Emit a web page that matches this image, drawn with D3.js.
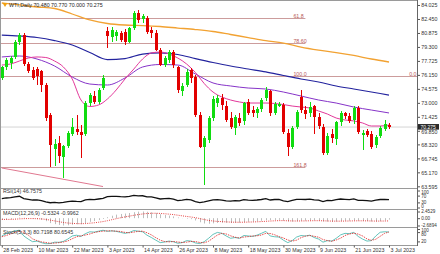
<!DOCTYPE html>
<html>
<head>
<meta charset="utf-8">
<script src="https://d3js.org/d3.v7.min.js"></script>
<style>
  body { margin: 0; background: #fff; }
  svg text { font-family: "Liberation Sans", Arial, sans-serif; font-size: 5.3px; }
</style>
</head>
<body>
<div id="chart"></div>
<script>
// date ticks (bar index of each label)
const tickIdx = [0, 8, 16, 24, 32, 40, 48, 56, 64, 72, 80, 88];
const tickLabels = ["28 Feb 2023", "10 Mar 2023", "22 Mar 2023", "3 Apr 2023", "14 Apr 2023", "26 Apr 2023",
  "8 May 2023", "18 May 2023", "30 May 2023", "9 Jun 2023", "21 Jun 2023", "3 Jul 2023"];

const priceTicks = [84.025, 82.450, 80.875, 79.300, 77.725, 76.150, 74.575, 73.000, 71.425, 69.850, 68.320, 66.745, 65.170, 63.595];

// daily OHLC, 28 Feb .. 3 Jul
const opens = [75.8, 77.0, 77.5, 78.2, 79.8, 80.6, 77.4, 76.7, 76.8, 76.6,
  75.0, 71.6, 67.8, 68.5, 66.9, 68.1, 69.5, 70.1, 69.7, 69.5,
  73.0, 73.8, 73.1, 74.7, 81.1, 80.4, 80.5, 80.9, 81.0, 79.9,
  81.4, 83.1, 82.4, 82.6, 81.2, 80.9, 79.0, 77.3, 77.8, 78.7,
  77.0, 74.3, 75.0, 76.7, 75.9, 71.6, 68.0, 68.8, 71.3, 73.0,
  73.6, 72.6, 71.3, 70.2, 71.3, 70.9, 73.1, 72.2, 71.9, 72.3,
  73.5, 74.3, 71.9, 72.7, 72.8, 69.6, 68.0, 70.3, 73.7, 72.2,
  71.8, 72.7, 71.4, 70.3, 67.4, 69.5, 68.9, 70.8, 71.9, 71.5,
  71.1, 72.4, 69.4, 69.8, 69.5, 68.2, 69.3, 70.0, 70.48];
const highs = [77.2, 78.0, 78.3, 80.1, 80.9, 80.9, 77.6, 77.0, 77.0, 76.7,
  75.2, 71.9, 68.9, 69.3, 68.3, 69.8, 71.3, 71.6, 70.5, 73.2,
  74.1, 74.3, 74.7, 76.1, 81.5, 81.5, 81.2, 81.1, 81.3, 81.6,
  83.3, 83.5, 83.0, 82.8, 81.5, 81.2, 79.2, 78.3, 78.9, 79.0,
  77.2, 75.2, 76.8, 76.9, 76.1, 72.0, 69.3, 71.5, 73.8, 73.9,
  74.0, 73.2, 72.0, 71.6, 71.8, 73.1, 73.4, 72.6, 72.5, 73.6,
  74.8, 74.5, 73.1, 73.1, 73.0, 70.0, 70.4, 72.2, 74.5, 72.7,
  73.1, 72.8, 71.8, 70.6, 69.6, 70.0, 71.0, 72.1, 72.0, 71.8,
  72.7, 72.6, 69.9, 70.1, 69.8, 69.4, 70.4, 71.1, 70.77];
const lows = [75.6, 76.7, 76.8, 77.9, 79.5, 77.1, 76.4, 75.6, 75.0, 74.2,
  71.0, 65.8, 65.9, 66.2, 64.5, 67.9, 69.3, 69.4, 66.8, 69.3,
  72.6, 72.9, 72.9, 74.5, 79.2, 79.8, 80.0, 79.9, 79.5, 79.7,
  81.2, 82.0, 82.0, 80.8, 80.3, 78.8, 77.1, 77.0, 77.5, 76.9,
  74.1, 73.8, 74.8, 75.2, 71.4, 67.9, 63.8, 68.5, 71.0, 72.5,
  72.2, 70.8, 70.0, 69.4, 70.4, 70.5, 71.6, 71.4, 71.3, 72.0,
  73.2, 71.5, 71.6, 72.5, 69.5, 67.0, 67.8, 70.1, 71.9, 71.2,
  71.4, 69.5, 70.0, 67.1, 67.1, 68.5, 68.2, 70.4, 71.2, 70.7,
  70.6, 69.5, 67.7, 69.1, 67.8, 67.9, 69.0, 69.8, 70.00];
const closes = [77.0, 77.8, 78.1, 79.9, 80.6, 77.4, 76.6, 75.8, 76.0, 75.0,
  71.3, 68.2, 68.4, 67.0, 68.1, 69.6, 70.3, 69.7, 69.4, 73.0,
  73.9, 73.1, 74.5, 75.8, 80.5, 81.2, 81.0, 80.1, 79.9, 81.4,
  83.1, 82.3, 82.8, 81.0, 80.9, 79.0, 77.3, 78.1, 78.7, 77.3,
  74.4, 74.9, 76.5, 75.8, 71.6, 68.0, 69.0, 71.3, 73.4, 73.6,
  72.8, 71.1, 70.3, 71.4, 70.7, 73.0, 71.9, 71.8, 72.3, 73.3,
  74.4, 71.9, 72.9, 72.9, 69.7, 68.0, 70.2, 72.0, 72.2, 71.7,
  72.5, 71.4, 70.4, 67.4, 69.3, 69.0, 70.8, 71.9, 71.5, 71.0,
  72.4, 69.7, 69.6, 69.4, 68.0, 69.2, 70.2, 70.6, 70.275];

// moving averages (bar index -> price)
const maIdx = [0, 4, 8, 12, 16, 20, 24, 28, 32, 36, 40, 44, 48, 52, 56, 60, 64, 68, 72, 76, 80, 84, 88];
const maOrange = [84.25, 84.03, 83.80, 83.63, 83.01, 82.34, 81.94, 81.77, 81.71, 81.60, 81.43, 81.26,
  81.04, 80.70, 80.36, 80.02, 79.74, 79.29, 78.95, 78.67, 78.34, 77.94, 77.60];
const maBlue = [80.64, 80.53, 80.36, 80.02, 79.52, 78.67, 77.88, 77.99, 78.50, 78.62, 78.45, 77.99,
  77.55, 77.15, 76.81, 76.48, 76.08, 75.69, 75.35, 74.90, 74.56, 74.22, 73.88];
const maPurple = [78.17, 78.28, 77.94, 77.15, 75.91, 75.12, 75.01, 75.80, 77.04, 77.32, 77.26, 76.25,
  75.24, 74.90, 74.67, 74.56, 74.22, 73.77, 73.32, 72.98, 72.53, 72.19, 71.86];
const pinkIdx = [0, 2, 4, 6, 8, 10, 12, 14, 16, 18, 20, 22, 24, 26, 28, 30, 32, 34, 36, 38, 40, 42, 44,
  46, 48, 50, 52, 54, 56, 58, 60, 62, 64, 66, 68, 70, 72, 74, 76, 78, 80, 82, 84, 86, 88];
const maPink = [77.26, 77.38, 77.71, 78.05, 78.17, 78.11, 77.71, 77.04, 75.69, 73.32, 72.59, 72.76,
  73.43, 74.45, 75.69, 76.81, 77.94, 78.62, 78.73, 78.50, 78.05, 77.38, 76.42, 75.18, 74.22, 73.66,
  73.32, 73.10, 72.98, 72.98, 72.98, 72.93, 72.81, 72.64, 72.53, 72.42, 72.08, 71.74, 71.29, 71.07,
  70.96, 70.73, 70.39, 70.39, 70.50];

// fibonacci levels and the trend line
const fibNames = ["61.8", "78.60", "100.0", "161.8"];
const fibVals = [82.53, 79.71, 76.02, 65.80];
const fibEnd = 69;
const trendIdx = [0, 23];
const trendVals = [65.66, 63.57];

// RSI(14)
const rsi = [52, 56, 58, 63, 66, 52, 48, 44, 45, 41,
  33, 28, 30, 27, 30, 35, 38, 36, 35, 45,
  48, 46, 50, 54, 64, 66, 66, 64, 63, 66,
  71, 68, 69, 63, 62, 56, 50, 52, 54, 49,
  41, 43, 48, 45, 35, 29, 33, 39, 45, 46,
  43, 39, 37, 41, 39, 46, 43, 42, 44, 47,
  52, 44, 47, 48, 39, 35, 42, 48, 48, 47,
  49, 45, 43, 35, 42, 40, 46, 50, 48, 46,
  51, 42, 42, 41, 37, 43, 47, 48, 46.7575];
const rsiTicks = [100, 70, 30, 0];

// MACD(12,26,9)
const macd = [-0.6, -0.5, -0.35, -0.1, 0.2, 0.15, 0.0, -0.2, -0.35, -0.6,
  -1.1, -1.8, -2.2, -2.5, -2.69, -2.6, -2.4, -2.25, -2.2, -1.8,
  -1.35, -1.05, -0.7, -0.3, 0.35, 0.9, 1.3, 1.55, 1.7, 1.9,
  2.2, 2.4, 2.45, 2.35, 2.15, 1.85, 1.45, 1.15, 0.95, 0.65,
  0.25, -0.05, -0.2, -0.35, -0.85, -1.5, -1.95, -2.05, -1.9, -1.75,
  -1.65, -1.7, -1.75, -1.65, -1.6, -1.4, -1.3, -1.2, -1.1, -0.95,
  -0.7, -0.7, -0.65, -0.6, -0.9, -1.2, -1.25, -1.1, -0.95, -0.9,
  -0.8, -0.8, -0.9, -1.2, -1.25, -1.3, -1.2, -1.05, -0.95, -0.9,
  -0.8, -0.9, -1.0, -1.05, -1.2, -1.2, -1.05, -0.8, -0.5324];
const macdSignal = [-0.45, -0.46, -0.44, -0.37, -0.26, -0.18, -0.14, -0.15, -0.19, -0.27,
  -0.44, -0.71, -1.0, -1.3, -1.58, -1.78, -1.91, -1.98, -2.03, -1.98,
  -1.85, -1.69, -1.49, -1.25, -0.93, -0.56, -0.19, 0.16, 0.47, 0.76,
  1.05, 1.32, 1.55, 1.71, 1.8, 1.81, 1.74, 1.62, 1.49, 1.32,
  1.1, 0.86, 0.64, 0.44, 0.18, -0.15, -0.51, -0.82, -1.04, -1.18,
  -1.28, -1.36, -1.44, -1.48, -1.5, -1.48, -1.44, -1.39, -1.33, -1.25,
  -1.14, -1.05, -0.97, -0.9, -0.9, -0.96, -1.02, -1.04, -1.02, -1.0,
  -0.96, -0.93, -0.92, -0.97, -1.02, -1.07, -1.1, -1.09, -1.06, -1.03,
  -0.98, -0.97, -0.97, -0.99, -1.03, -1.07, -1.07, -1.04, -0.9962];
const macdTicks = [2.4529, 0, -2.6894];

// Stoch(5,3,3)
const stochK = [55, 70, 78, 88, 92, 55, 35, 18, 22, 12,
  5, 6, 15, 14, 20, 35, 55, 60, 52, 70,
  82, 80, 86, 92, 85, 88, 85, 78, 72, 78,
  90, 86, 82, 60, 45, 28, 12, 16, 22, 18,
  8, 12, 25, 22, 10, 6, 18, 40, 65, 78,
  72, 55, 40, 45, 40, 58, 55, 52, 60, 72,
  85, 55, 50, 48, 28, 12, 25, 48, 58, 55,
  60, 45, 35, 15, 25, 22, 40, 62, 72, 70,
  78, 52, 35, 22, 25, 55, 79, 82.2, 80.7198];
const stochD = [50, 58, 68, 79, 86, 78, 61, 36, 25, 17,
  13, 8, 9, 12, 16, 23, 37, 50, 56, 61,
  68, 77, 83, 86, 88, 88, 86, 84, 78, 76,
  80, 85, 86, 76, 62, 44, 28, 19, 17, 19,
  16, 13, 15, 20, 19, 13, 11, 21, 41, 61,
  72, 68, 56, 47, 42, 48, 51, 55, 56, 61,
  72, 71, 63, 51, 42, 29, 22, 28, 44, 54,
  58, 53, 47, 32, 25, 21, 29, 41, 58, 68,
  73, 67, 55, 36, 27, 34, 53, 72, 80.6545];
const stochTicks = [100, 80, 20];

function makeChart() {
  let svgWidth = 440;
  let svgHeight = 254;
  let axisX = 417.5;
  let last = closes.length - 1;

  let svg = d3.select("#chart")
    .append("svg")
    .attr("width", svgWidth)
    .attr("height", svgHeight);

  // scales
  let xScale = d3.scaleLinear().domain([0, 88]).range([1.8, 389]);
  let yPrice = d3.scaleLinear().domain([63.293, 84.588]).range([189, 0]);
  let yRsi = d3.scaleLinear().domain([0, 100]).range([207.5, 190.5]);
  let yMacd = d3.scaleLinear().domain([-2.6894, 2.4529]).range([225.5, 211.5]);
  let yStoch = d3.scaleLinear().domain([0, 100]).range([244.5, 229]);

  svg.append("defs").append("clipPath").attr("id", "clipMain")
    .append("rect").attr("x", 0.5).attr("y", 0.5).attr("width", axisX - 0.5).attr("height", 188);

  // main panel
  let main = svg.append("g").attr("clip-path", "url(#clipMain)");

  // last price line
  main.append("line")
    .attr("x1", 0).attr("x2", axisX)
    .attr("y1", yPrice(closes[last])).attr("y2", yPrice(closes[last]))
    .attr("stroke", "#d4d4d4").attr("stroke-width", 1);

  // fib lines
  fibVals.forEach(function(v, k) {
    let full = fibNames[k] === "100.0";
    main.append("line")
      .attr("x1", 0).attr("x2", full ? axisX : xScale(fibEnd))
      .attr("y1", Math.round(yPrice(v)) + 0.5).attr("y2", Math.round(yPrice(v)) + 0.5)
      .attr("stroke", "#cc9c9c").attr("stroke-width", 1);
    main.append("text")
      .attr("x", xScale(fibEnd) - 12)
      .attr("y", Math.round(yPrice(v)))
      .attr("fill", "#b85858")
      .text(fibNames[k]);
  });
  main.append("text")
    .attr("x", axisX - 1).attr("y", Math.round(yPrice(fibVals[2])))
    .attr("text-anchor", "end").attr("fill", "#b85858")
    .text("0.0");

  // trend line
  main.append("line")
    .attr("x1", xScale(trendIdx[0])).attr("y1", yPrice(trendVals[0]))
    .attr("x2", xScale(trendIdx[1])).attr("y2", yPrice(trendVals[1]))
    .attr("stroke", "#e07890").attr("stroke-width", 1);

  // moving averages
  function maLine(idx, vals, color, w) {
    let line = d3.line()
      .x((d, i) => xScale(idx[i]))
      .y(d => yPrice(d))
      .curve(d3.curveMonotoneX);
    main.append("path")
      .datum(vals)
      .attr("d", line)
      .attr("fill", "none")
      .attr("stroke", color)
      .attr("stroke-width", w);
  }
  maLine(maIdx, maOrange, "#f2a232", 1.3);
  maLine(maIdx, maBlue, "#23239e", 1.2);
  maLine(maIdx, maPurple, "#8634c8", 1);
  maLine(pinkIdx, maPink, "#e2389a", 1);

  // candles
  let candles = main.selectAll(".candle")
    .data(closes)
    .enter()
    .append("g")
    .attr("class", "candle")
    .attr("shape-rendering", "crispEdges");

  candles.append("line")
    .attr("x1", (d, i) => Math.round(xScale(i)) + 0.5)
    .attr("x2", (d, i) => Math.round(xScale(i)) + 0.5)
    .attr("y1", (d, i) => yPrice(highs[i]))
    .attr("y2", (d, i) => yPrice(lows[i]))
    .attr("stroke", (d, i) => d >= opens[i] ? "#10dc10" : "#e20000")
    .attr("stroke-width", 1);

  candles.append("rect")
    .attr("x", (d, i) => Math.round(xScale(i)) - 1)
    .attr("width", 3)
    .attr("y", (d, i) => yPrice(Math.max(d, opens[i])))
    .attr("height", (d, i) => Math.max(1, Math.abs(yPrice(d) - yPrice(opens[i]))))
    .attr("fill", (d, i) => d >= opens[i] ? "#10dc10" : "#e20000");

  // title
  svg.append("path")
    .attr("d", "M2.5,3 L7.5,3 L5,7 Z")
    .attr("fill", "#f0a010");
  let f3 = d3.format(".3f");
  svg.append("text")
    .attr("x", 9).attr("y", 6.8)
    .attr("fill", "#222")
    .text("WTI,Daily " + f3(opens[last]) + " " + f3(highs[last]) + " " + f3(lows[last]) + " " + f3(closes[last]));

  // RSI
  let rsiLine = d3.line().x((d, i) => xScale(i)).y(d => yRsi(d));
  svg.append("path").datum(rsi).attr("d", rsiLine)
    .attr("fill", "none").attr("stroke", "#111").attr("stroke-width", 1.3);
  svg.append("text").attr("x", 3).attr("y", 193.2).attr("fill", "#333")
    .text("RSI(14) " + rsi[last].toFixed(4));

  // MACD
  svg.append("g").selectAll("line")
    .data(macd)
    .enter()
    .append("line")
    .attr("x1", (d, i) => Math.round(xScale(i)) + 0.5)
    .attr("x2", (d, i) => Math.round(xScale(i)) + 0.5)
    .attr("y1", yMacd(0))
    .attr("y2", d => yMacd(d))
    .attr("stroke", "#bdbdbd").attr("stroke-width", 1);
  let sigLine = d3.line().x((d, i) => xScale(i)).y(d => yMacd(d));
  svg.append("path").datum(macdSignal).attr("d", sigLine)
    .attr("fill", "none").attr("stroke", "#e01010").attr("stroke-width", 0.8)
    .attr("stroke-dasharray", "1,1.2");
  svg.append("text").attr("x", 3).attr("y", 215.3).attr("fill", "#333")
    .text("MACD(12,26,9) " + macd[last].toFixed(4) + " " + macdSignal[last].toFixed(4));

  // Stochastic
  let kLine = d3.line().x((d, i) => xScale(i)).y(d => yStoch(d));
  svg.append("path").datum(stochK).attr("d", kLine)
    .attr("fill", "none").attr("stroke", "#3cb4aa").attr("stroke-width", 0.8);
  svg.append("path").datum(stochD).attr("d", kLine)
    .attr("fill", "none").attr("stroke", "#e02020").attr("stroke-width", 0.8)
    .attr("stroke-dasharray", "1.5,1");
  svg.append("text").attr("x", 3).attr("y", 233.5).attr("fill", "#333")
    .text("Stoch(5,3,3) " + stochK[last].toFixed(4) + " " + stochD[last].toFixed(4));

  // panel frames
  let frame = svg.append("g").attr("stroke", "#9a9a9a").attr("stroke-width", 1).attr("shape-rendering", "crispEdges");
  frame.append("rect").attr("x", 0.5).attr("y", 0.5).attr("width", axisX - 0.5).attr("height", 245).attr("fill", "none");
  [188.5, 209.5, 227.5].forEach(function(yy) {
    frame.append("line").attr("x1", 0.5).attr("x2", axisX).attr("y1", yy).attr("y2", yy);
  });

  // right axes
  function rightAxis(scale, ticks, fmt, size) {
    let g = svg.append("g")
      .attr("transform", `translate(${axisX}, 0)`)
      .call(d3.axisRight(scale).tickValues(ticks).tickFormat(fmt).tickSize(2.5).tickPadding(1.2));
    g.select(".domain").remove();
    g.selectAll("line").attr("stroke", "#555");
    g.selectAll("text").attr("fill", "#333").style("font-size", size + "px");
    return g;
  }
  let pa = rightAxis(yPrice, priceTicks, d3.format(".3f"), 5.3);
  // keep the label under the price tag clear of it
  pa.selectAll("text").attr("y", d => d === 69.850 ? 1 : 0);
  // small label nudges so stacked labels stay readable
  let rsiShift = { 100: 1.2, 70: 0.5, 30: -0.5, 0: -1.3 };
  let ra = rightAxis(yRsi, rsiTicks, d3.format("d"), 4.6);
  ra.selectAll("text").attr("y", d => rsiShift[d]);
  rightAxis(yMacd, macdTicks, d => d === 0 ? "0.00" : d.toFixed(4), 4.6);
  let stochShift = { 100: 0.6, 80: 1.8, 20: 0 };
  let sa = rightAxis(yStoch, stochTicks, d3.format("d"), 4.6);
  sa.selectAll("text").attr("y", d => stochShift[d]);

  // price tag
  svg.append("rect")
    .attr("x", axisX + 0.5).attr("y", yPrice(closes[last]) - 3)
    .attr("width", 21).attr("height", 5.6)
    .attr("fill", "#2a2a2a");
  svg.append("text")
    .attr("x", axisX + 3).attr("y", yPrice(closes[last]) + 1.8)
    .attr("fill", "#fff")
    .style("font-size", "5px")
    .text(f3(closes[last]));

  // date axis
  let xg = svg.append("g")
    .attr("transform", "translate(0, 245.5)")
    .call(d3.axisBottom(xScale).tickValues(tickIdx).tickFormat((d, i) => tickLabels[i]).tickSize(2).tickPadding(1));
  xg.select(".domain").remove();
  xg.selectAll("line").attr("stroke", "#555");
  xg.selectAll("text")
    .attr("text-anchor", "start")
    .attr("dx", 1)
    .attr("fill", "#333")
    .style("font-size", "5.3px");

  svg.append("line")
    .attr("x1", axisX).attr("x2", axisX).attr("y1", 0).attr("y2", 246)
    .attr("stroke", "#666").attr("stroke-width", 1);
}

makeChart();
</script>
</body>
</html>
